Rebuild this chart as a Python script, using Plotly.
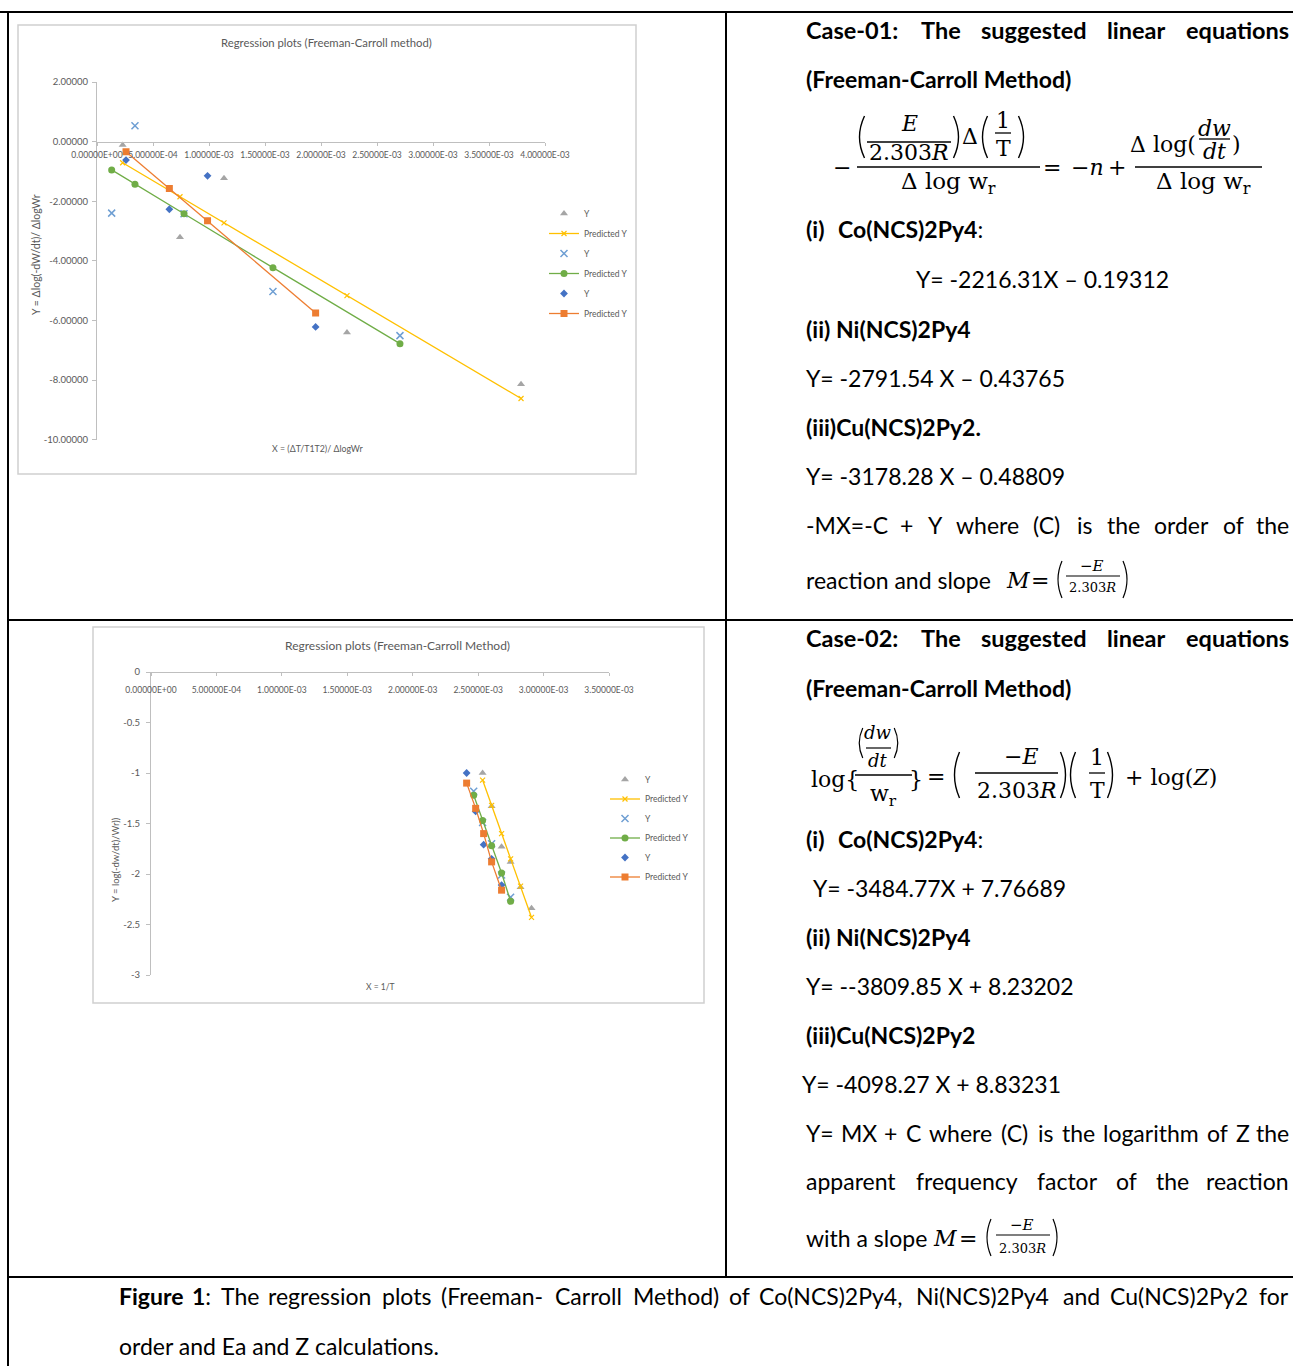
import re
import plotly.graph_objects as go

W, H = 1293, 1366

# ---------------- data ----------------
# Case-01 : X = (dT/T1T2)/dlogWr , Y = dlog(-dW/dt)/dlogWr
c1_co_x    = [0.229e-3, 0.741e-3, 1.134e-3, 2.232e-3, 3.786e-3]
c1_co_y    = [-0.11, -3.21, -1.23, -6.41, -8.14]
c1_co_pred = [-0.71, -1.85, -2.73, -5.17, -8.62]
c1_ni_x    = [0.131e-3, 0.339e-3, 0.777e-3, 1.571e-3, 2.705e-3]
c1_ni_y    = [-2.40, 0.53, -2.42, -5.03, -6.51]
c1_ni_pred = [-0.95, -1.43, -2.42, -4.23, -6.78]
c1_cu_x    = [0.259e-3, 0.646e-3, 0.987e-3, 1.952e-3]
c1_cu_y    = [-0.62, -2.27, -1.15, -6.22]
c1_cu_pred = [-0.34, -1.57, -2.66, -5.75]

c1_xtick_vals = [0, 0.5e-3, 1.0e-3, 1.5e-3, 2.0e-3, 2.5e-3, 3.0e-3, 3.5e-3, 4.0e-3]
c1_xtick_text = ["0.00000E+00", "5.00000E-04", "1.00000E-03", "1.50000E-03", "2.00000E-03",
                 "2.50000E-03", "3.00000E-03", "3.50000E-03", "4.00000E-03"]
c1_ytick_vals = [2, 0, -2, -4, -6, -8, -10]
c1_ytick_text = ["2.00000", "0.00000", "-2.00000", "-4.00000", "-6.00000", "-8.00000", "-10.00000"]

# Case-02 : X = 1/T , Y = log((-dw/dt)/Wr)
c2_co_x    = [2.534e-3, 2.603e-3, 2.679e-3, 2.748e-3, 2.824e-3, 2.908e-3]
c2_co_y    = [-1.00, -1.33, -1.73, -1.88, -2.13, -2.34]
c2_co_pred = [-1.07, -1.32, -1.60, -1.85, -2.12, -2.43]
c2_ni_x    = [2.466e-3, 2.534e-3, 2.603e-3, 2.679e-3, 2.748e-3]
c2_ni_y    = [-1.18, -1.49, -1.70, -2.01, -2.23]
c2_ni_pred = [-1.22, -1.47, -1.72, -1.99, -2.27]
c2_cu_x    = [2.412e-3, 2.481e-3, 2.542e-3, 2.603e-3, 2.679e-3]
c2_cu_y    = [-1.00, -1.38, -1.71, -1.85, -2.11]
c2_cu_pred = [-1.10, -1.35, -1.60, -1.88, -2.16]

c2_xtick_vals = [0, 0.5e-3, 1.0e-3, 1.5e-3, 2.0e-3, 2.5e-3, 3.0e-3, 3.5e-3]
c2_xtick_text = ["0.00000E+00", "5.00000E-04", "1.00000E-03", "1.50000E-03", "2.00000E-03",
                 "2.50000E-03", "3.00000E-03", "3.50000E-03"]
c2_ytick_vals = [0, -0.5, -1, -1.5, -2, -2.5, -3]
c2_ytick_text = ["0", "-0.5", "-1", "-1.5", "-2", "-2.5", "-3"]

legend_names = ["Y", "Predicted Y", "Y", "Predicted Y", "Y", "Predicted Y"]

# ---------------- styling ----------------
GREY, GOLD, LBLUE, GREEN, DBLUE, ORANGE = "#A5A5A5", "#FFC000", "#6F9FD3", "#70AD47", "#4472C4", "#ED7D31"
AXC = "#BFBFBF"
LBLC = "#595959"
CF = "Lato"
TXT = "Lato"
MATH = "DejaVu Serif"


def X(px):
    return px / W


def Y(py):
    return 1 - py / H


fig = go.Figure()


def add_chart(xa, ya, leg, tag, xs_list, ys_list, preds_list):
    (x1, x2, x3) = xs_list
    (y1, y2, y3) = ys_list
    (p1, p2, p3) = preds_list
    specs = [
        (x1, y1, "markers", dict(symbol="triangle-up", size=7, color=GREY), None),
        (x1, p1, "lines+markers", dict(symbol="x-thin", size=5, color=GOLD, line=dict(width=1.2, color=GOLD)), dict(color=GOLD, width=1.3)),
        (x2, y2, "markers", dict(symbol="x-thin", size=7, color=LBLUE, line=dict(width=1.5, color=LBLUE)), None),
        (x2, p2, "lines+markers", dict(symbol="circle", size=7, color=GREEN), dict(color=GREEN, width=1.3)),
        (x3, y3, "markers", dict(symbol="diamond", size=6, color=DBLUE), None),
        (x3, p3, "lines+markers", dict(symbol="square", size=7, color=ORANGE), dict(color=ORANGE, width=1.3)),
    ]
    for i, (xx, yy, mode, mk, ln) in enumerate(specs):
        kw = dict(x=xx, y=yy, mode=mode, marker=mk, name=legend_names[i], xaxis=xa, yaxis=ya,
                  legend=leg, legendgroup=f"{tag}{i}", showlegend=True)
        if ln:
            kw["line"] = ln
        fig.add_trace(go.Scatter(**kw))


add_chart("x", "y", "legend", "a", (c1_co_x, c1_ni_x, c1_cu_x), (c1_co_y, c1_ni_y, c1_cu_y),
          (c1_co_pred, c1_ni_pred, c1_cu_pred))
add_chart("x2", "y2", "legend2", "b", (c2_co_x, c2_ni_x, c2_cu_x), (c2_co_y, c2_ni_y, c2_cu_y),
          (c2_co_pred, c2_ni_pred, c2_cu_pred))

# chart geometry (pixels)
C1_L, C1_R, C1_Y0, C1_PPU = 97, 545, 141.6, 29.8
C2_L, C2_R, C2_T, C2_B = 151, 609, 672, 975

axis_common = dict(showline=True, linecolor=AXC, linewidth=1, ticks="outside", tickcolor=AXC,
                   showgrid=False, zeroline=False, tickangle=0, automargin=False)

fig.update_layout(
    xaxis=dict(domain=[X(C1_L), X(C1_R)], range=[0, 0.004], anchor="free", position=Y(C1_Y0),
               tickvals=c1_xtick_vals, ticktext=c1_xtick_text, ticklen=3, ticklabelstandoff=2,
               tickfont=dict(family=CF, size=8.5, color=LBLC), **axis_common),
    yaxis=dict(domain=[Y(C1_Y0 + 10 * C1_PPU), Y(C1_Y0 - 2 * C1_PPU)], range=[-10, 2], anchor="x",
               tickvals=c1_ytick_vals, ticktext=c1_ytick_text, ticklen=4, ticklabelstandoff=2,
               tickfont=dict(family=CF, size=9.5, color=LBLC), **axis_common),
    xaxis2=dict(domain=[X(C2_L), X(C2_R)], range=[0, 0.0035], anchor="free", position=Y(C2_T),
                tickvals=c2_xtick_vals, ticktext=c2_xtick_text, ticklen=3, ticklabelstandoff=7,
                tickfont=dict(family=CF, size=8.5, color=LBLC), **axis_common),
    yaxis2=dict(domain=[Y(C2_B), Y(C2_T)], range=[-3, 0], anchor="x2",
                tickvals=c2_ytick_vals, ticktext=c2_ytick_text, ticklen=4, ticklabelstandoff=4,
                tickfont=dict(family=CF, size=9.5, color=LBLC), **axis_common),
    legend=dict(x=X(544), y=Y(199), xanchor="left", yanchor="top", font=dict(family=CF, size=8.5, color=LBLC),
                bgcolor="rgba(0,0,0,0)", tracegroupgap=1, itemwidth=30),
    legend2=dict(x=X(605), y=Y(765), xanchor="left", yanchor="top", font=dict(family=CF, size=8.5, color=LBLC),
                 bgcolor="rgba(0,0,0,0)", tracegroupgap=0.5, itemwidth=30),
    width=W, height=H, margin=dict(l=0, r=0, t=0, b=0, pad=0, autoexpand=False),
    paper_bgcolor="white", plot_bgcolor="rgba(0,0,0,0)",
)

annotations = []
shapes = []


def text(px, py, s, size=20, font=TXT, xanchor="left", color="black", angle=0):
    annotations.append(dict(x=X(px), y=Y(py), xref="paper", yref="paper", text=s, showarrow=False,
                            xanchor=xanchor, yanchor="middle", textangle=angle, borderpad=0,
                            font=dict(family=font, size=size, color=color)))


def line(x0, y0, x1, y1, color="black", width=2):
    shapes.append(dict(type="line", xref="paper", yref="paper", x0=X(x0), y0=Y(y0), x1=X(x1), y1=Y(y1),
                       line=dict(color=color, width=width)))


def rect(x0, y0, x1, y1, color="#D0D0D0", width=1.5):
    shapes.append(dict(type="rect", xref="paper", yref="paper", x0=X(x0), y0=Y(y0), x1=X(x1), y1=Y(y1),
                       line=dict(color=color, width=width), fillcolor="rgba(0,0,0,0)", layer="below"))


def paren(xc, ytop, ybot, left=True, b=5.0, w=1.4):
    s = 1 if left else -1
    xe = xc + s * b / 2
    xcq = xc - s * 1.5 * b
    ym = (ytop + ybot) / 2
    path = f"M {X(xe)},{Y(ytop)} Q {X(xcq)},{Y(ym)} {X(xe)},{Y(ybot)}"
    shapes.append(dict(type="path", xref="paper", yref="paper", path=path,
                       line=dict(color="black", width=w)))


CHW = {" ": 0.26, "f": 0.33, "t": 0.35, "r": 0.37, "(": 0.3, ")": 0.3, "-": 0.36, "s": 0.43, "c": 0.47,
       "z": 0.46, "a": 0.51, "e": 0.52, "k": 0.5, "v": 0.5, "x": 0.49, "y": 0.5, "g": 0.5, "b": 0.56,
       "d": 0.56, "h": 0.56, "n": 0.56, "o": 0.56, "p": 0.56, "q": 0.56, "u": 0.56, "m": 0.84, "w": 0.77,
       "i": 0.24, "l": 0.24, "j": 0.24, ".": 0.22, ",": 0.22, ":": 0.24, "=": 0.58, "+": 0.58,
       "M": 0.86, "W": 0.9, "C": 0.68, "N": 0.75, "P": 0.6, "X": 0.63, "Y": 0.6, "Z": 0.6, "T": 0.56,
       "F": 0.55, "E": 0.55, "I": 0.27}


def est_w(s, size, bold=False):
    s = re.sub(r"<[^>]+>", "", s)
    tot = 0.0
    for ch in s:
        if ch.isdigit():
            tot += 0.58
        else:
            tot += CHW.get(ch, 0.65 if ch.isupper() else 0.52)
    return tot * size * (1.04 if bold else 1.0)


def justify(words, x0, x1, py, size, bold=False):
    widths = [est_w(w, size, bold) for w in words]
    gap = (x1 - x0 - sum(widths)) / (len(words) - 1)
    x = x0
    for i, (w, wd) in enumerate(zip(words, widths)):
        s = f"<b>{w}</b>" if bold else w
        if i == len(words) - 1:
            text(x1, py, s, size, xanchor="right")
        else:
            text(x, py, s, size)
        x += wd + gap


# ---------------- table borders ----------------
line(0, 12, W, 12)
line(8, 12, 8, H)
line(726, 12, 726, 1277)
line(8, 620, W, 620)
line(8, 1277, W, 1277)

# ---------------- chart frames & chart texts ----------------
rect(18, 25, 636, 474)
rect(93, 627, 704, 1003)

text(326, 43, "Regression plots (Freeman-Carroll method)", 11.3, CF, "center", LBLC)
text(318, 449, "X = (ΔT/T1T2)/ ΔlogWr", 8.8, CF, "center", LBLC)
text(36, 255, "Y = Δlog(-dW/dt)/ ΔlogWr", 10.5, CF, "center", LBLC, -90)

text(397, 645, "Regression plots (Freeman-Carroll Method)", 12, CF, "center", LBLC)
text(380, 987, "X = 1/T", 8.5, CF, "center", LBLC)
text(115, 860, "Y = log(-dw/dt)/Wr))", 9.5, CF, "center", LBLC, -90)

# ---------------- right column text ----------------
FS = 23
RX0, RX1 = 805, 1290
justify(["Case-01:", "The", "suggested", "linear", "equations"], RX0, RX1, 30, 23.5, True)
text(RX0, 79, "<b>(Freeman-Carroll Method)</b>", FS)

# equation 1
EQ = 22
text(842, 167, "−", EQ, MATH, "center")
paren(862, 116, 158, True)
text(909, 124, "<i>E</i>", EQ, MATH, "center")
line(867, 142, 951, 142, width=1.3)
text(909, 152, "2.303<i>R</i>", EQ, MATH, "center")
paren(956, 116, 158, False)
text(970, 137, "Δ", EQ, MATH, "center")
paren(985, 116, 158, True)
text(1003, 120, "1", EQ, MATH, "center")
line(995, 133, 1011, 133, width=1.3)
text(1003, 148, "T", EQ, MATH, "center")
paren(1021, 116, 158, False)
line(857, 167, 1040, 167, width=1.3)
text(948, 183, "Δ log w<sub>r</sub>", 23, MATH, "center")
text(1052, 167, "=", EQ, MATH, "center")
text(1087, 167, "−<i>n</i>", EQ, MATH, "center")
text(1117, 167, "+", EQ, MATH, "center")
line(1135, 167, 1262, 167, width=1.3)
text(1197, 144, "Δ log(", EQ, MATH, "right")
text(1214, 128, "<i>dw</i>", EQ, MATH, "center")
line(1199, 139, 1230, 139, width=1.3)
text(1214, 151, "<i>dt</i>", EQ, MATH, "center")
text(1231, 144, ")", EQ, MATH, "left")
text(1203, 183, "Δ log w<sub>r</sub>", 23, MATH, "center")

text(RX0, 229, "<b>(i)</b>", FS)
text(837, 229, "<b>Co(NCS)2Py4</b>:", FS)
text(915, 279, "Y= -2216.31X – 0.19312", FS)
text(RX0, 329, "<b>(ii)</b>", FS)
text(835, 329, "<b>Ni(NCS)2Py4</b>", FS)
text(RX0, 378, "Y= -2791.54 X – 0.43765", FS)
text(RX0, 427, "<b>(iii)Cu(NCS)2Py2.</b>", FS)
text(RX0, 476, "Y= -3178.28 X – 0.48809", FS)
justify(["-MX=-C", "+", "Y", "where", "(C)", "is", "the", "order", "of", "the"], RX0, RX1, 525, FS)
text(RX0, 580, "reaction and slope", FS)
text(1018, 580, "<i>M</i>", EQ, MATH, "center")
text(1040, 580, "=", EQ, MATH, "center")
paren(1060, 561, 598, True, 4, 1.2)
text(1092, 566, "−<i>E</i>", 15, MATH, "center")
line(1066, 576, 1120, 576, width=1.1)
text(1092, 588, "2.303<i>R</i>", 13, MATH, "center")
paren(1125, 561, 598, False, 4, 1.2)

justify(["Case-02:", "The", "suggested", "linear", "equations"], RX0, RX1, 638, 23.5, True)
text(RX0, 688, "<b>(Freeman-Carroll Method)</b>", FS)

# equation 2
text(810, 779, "log{", EQ, MATH, "left")
paren(861, 728, 758, True, 3.5, 1.2)
text(878, 732, "<i>dw</i>", 18, MATH, "center")
line(866, 748, 891, 748, width=1.2)
text(878, 760, "<i>dt</i>", 18, MATH, "center")
paren(896, 728, 758, False, 3.5, 1.2)
line(855, 775, 912, 775, width=1.3)
text(883, 795, "w<sub>r</sub>", EQ, MATH, "center")
text(916, 779, "}", EQ, MATH, "center")
text(936, 776, "=", EQ, MATH, "center")
paren(957, 752, 798, True)
text(1021, 756, "−<i>E</i>", EQ, MATH, "center")
line(975, 773, 1058, 773, width=1.3)
text(1017, 791, "2.303<i>R</i>", EQ, MATH, "center")
paren(1063, 752, 798, False)
paren(1073, 752, 798, True)
text(1097, 757, "1", EQ, MATH, "center")
line(1089, 773, 1105, 773, width=1.3)
text(1097, 791, "T", EQ, MATH, "center")
paren(1110, 752, 798, False)
text(1124, 777, "+ log(<i>Z</i>)", EQ, MATH, "left")

text(RX0, 839, "<b>(i)</b>", FS)
text(837, 839, "<b>Co(NCS)2Py4</b>:", FS)
text(812, 888, "Y= -3484.77X + 7.76689", FS)
text(RX0, 937, "<b>(ii)</b>", FS)
text(835, 937, "<b>Ni(NCS)2Py4</b>", FS)
text(RX0, 986, "Y= --3809.85 X + 8.23202", FS)
text(RX0, 1035, "<b>(iii)Cu(NCS)2Py2</b>", FS)
text(801, 1084, "Y= -4098.27 X + 8.83231", FS)
justify(["Y=", "MX", "+", "C", "where", "(C)", "is", "the", "logarithm", "of", "Z", "the"], RX0, RX1, 1133, FS)
justify(["apparent", "frequency", "factor", "of", "the", "reaction"], RX0, RX1, 1181, FS)
text(RX0, 1238, "with a slope", FS)
text(945, 1238, "<i>M</i>", EQ, MATH, "center")
text(968, 1238, "=", EQ, MATH, "center")
paren(989, 1219, 1256, True, 4, 1.2)
text(1022, 1225, "−<i>E</i>", 15, MATH, "center")
line(996, 1235, 1050, 1235, width=1.1)
text(1022, 1248, "2.303<i>R</i>", 13, MATH, "center")
paren(1055, 1219, 1256, False, 4, 1.2)

# caption
justify(["<b>Figure</b>", "<b>1</b>:", "The", "regression", "plots", "(Freeman-", "Carroll", "Method)", "of",
         "Co(NCS)2Py4,", "Ni(NCS)2Py4", "and", "Cu(NCS)2Py2", "for"], 118, 1290, 1296, FS)
text(118, 1346, "order and Ea and Z calculations.", FS)

fig.update_layout(annotations=annotations, shapes=shapes)
fig.write_html("out.html", config={"displayModeBar": False},
               post_script="document.body.style.margin='0';")
